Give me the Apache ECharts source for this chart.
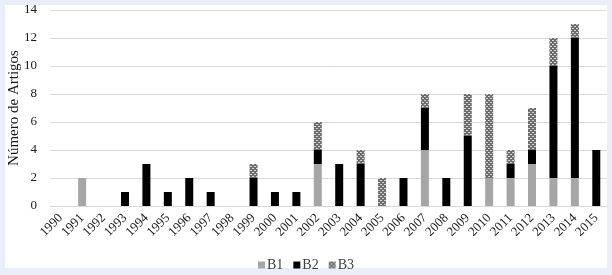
<!DOCTYPE html>
<html lang="pt">
<head>
  <meta charset="UTF-8">
  <title>Número de Artigos</title>
  <script src="https://cdn.jsdelivr.net/npm/echarts@6/dist/echarts.min.js"></script>
  <style>
    * { margin: 0; padding: 0; }
    body { background: #e9eef7; width: 612px; height: 275px; }
    #box {
      position: absolute; left: 5px; top: 5px;
      width: 602px; height: 263px; background: #fff;
    }
    #chart { position: absolute; left: -5px; top: -5px; width: 612px; height: 275px; }
  </style>
</head>
<body>
  <div id="box"><div id="chart"></div></div>
  <script>
    // anos e contagens por classificação
    const years = ['1990', '1991', '1992', '1993', '1994', '1995', '1996', '1997', '1998', '1999',
      '2000', '2001', '2002', '2003', '2004', '2005', '2006', '2007', '2008', '2009',
      '2010', '2011', '2012', '2013', '2014', '2015'];
    const b1 = [0, 2, 0, 0, 0, 0, 0, 0, 0, 0, 0, 0, 3, 0, 0, 0, 0, 4, 0, 0, 2, 2, 3, 2, 2, 0];
    const b2 = [0, 0, 0, 1, 3, 1, 2, 1, 0, 2, 1, 1, 1, 3, 3, 0, 2, 3, 2, 5, 0, 1, 1, 8, 10, 4];
    const b3 = [0, 0, 0, 0, 0, 0, 0, 0, 0, 1, 0, 0, 2, 0, 1, 2, 0, 1, 0, 3, 6, 1, 3, 2, 1, 0];

    // textura pontilhada para B3
    const pat = document.createElement('canvas');
    pat.width = 4; pat.height = 4;
    const ctx = pat.getContext('2d');
    ctx.fillStyle = '#6e6e6e';
    ctx.fillRect(0, 0, 4, 4);
    ctx.fillStyle = '#d4d4d4';
    ctx.fillRect(0, 0, 2, 1);
    ctx.fillRect(2, 2, 2, 1);

    const font = '"Liberation Serif", "Times New Roman", serif';
    const chart = echarts.init(document.getElementById('chart'));

    function serie(name, data, color) {
      return {
        name: name,
        type: 'bar',
        stack: 'total',
        data: data.map(v => v === 0 ? null : v),
        barWidth: 8,
        itemStyle: { color: color },
        emphasis: { disabled: true }
      };
    }

    chart.setOption({
      animation: false,
      textStyle: { fontFamily: font },
      grid: { left: 50, right: 5, top: 10, bottom: 69, outerBoundsMode: 'none' },
      legend: {
        bottom: -2,
        left: 'center',
        itemWidth: 7,
        itemHeight: 7,
        itemGap: 10,
        icon: 'rect',
        textStyle: { fontFamily: font, fontSize: 14, color: '#404040', padding: [0, 0, 0, -3] },
        data: ['B1', 'B2', 'B3']
      },
      xAxis: {
        type: 'category',
        data: years,
        axisLine: { lineStyle: { color: '#d9d9d9' } },
        axisTick: { show: false },
        axisLabel: {
          rotate: 45,
          interval: 0,
          margin: 10,
          color: '#1a1a1a',
          fontFamily: font,
          fontSize: 13
        }
      },
      yAxis: {
        type: 'value',
        min: 0,
        max: 14,
        interval: 2,
        name: 'Número de Artigos',
        nameLocation: 'middle',
        nameGap: 28,
        nameMoveOverlap: false,
        nameTextStyle: { fontFamily: font, fontSize: 15, color: '#1a1a1a' },
        axisLine: { show: false },
        axisTick: { show: false },
        axisLabel: { color: '#1a1a1a', fontFamily: font, fontSize: 13, margin: 13 },
        splitLine: { lineStyle: { color: '#d9d9d9' } }
      },
      series: [
        serie('B1', b1, '#a6a6a6'),
        serie('B2', b2, '#000000'),
        serie('B3', b3, { image: pat, repeat: 'repeat' })
      ]
    });
  </script>
</body>
</html>
